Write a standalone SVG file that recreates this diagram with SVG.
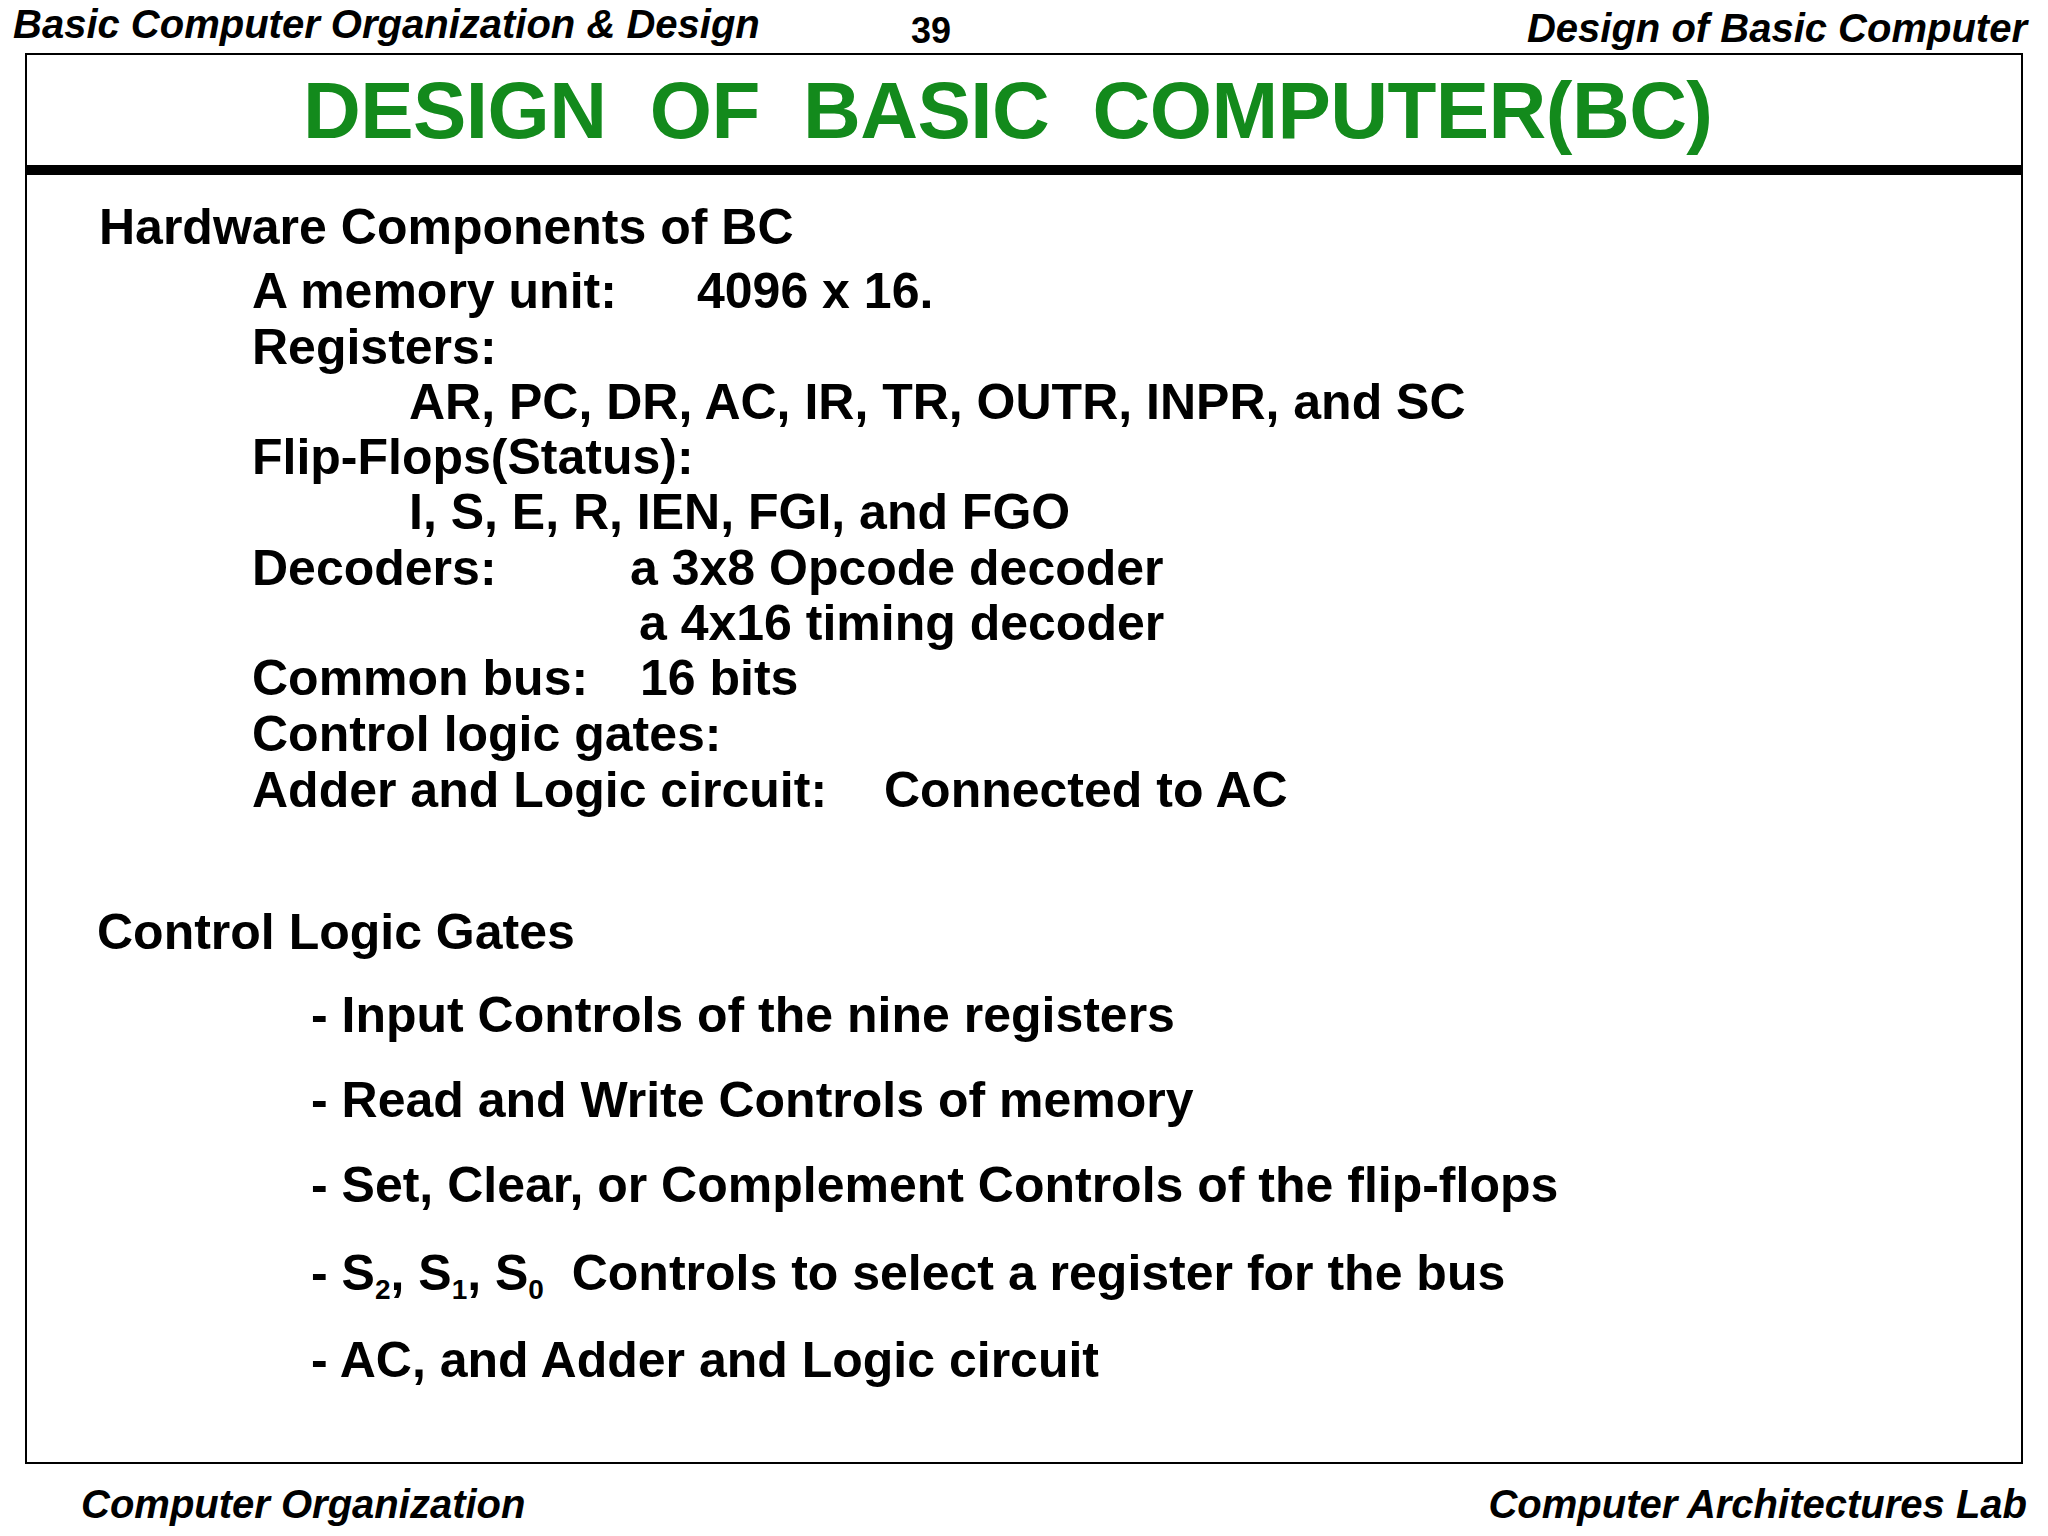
<svg xmlns="http://www.w3.org/2000/svg" width="2048" height="1536" viewBox="0 0 2048 1536">
<style>
.h{font-family:"Liberation Sans",Arial,sans-serif;font-weight:bold;font-style:italic;font-size:40px;fill:#000}
.t{font-family:"Liberation Sans",Arial,sans-serif;font-weight:bold;font-size:50px;fill:#000}
</style>
<rect width="2048" height="1536" fill="#fff"/>
<text class="h" x="13" y="38">Basic Computer Organization &amp; Design</text>
<text class="h" x="931" y="43" text-anchor="middle" style="font-style:normal;font-size:36px">39</text>
<text class="h" x="2027" y="42" text-anchor="end">Design of Basic Computer</text>
<rect x="26" y="54" width="1996" height="1409" fill="none" stroke="#000" stroke-width="2"/>
<text x="303" y="138" font-family="Liberation Sans,Arial,sans-serif" font-weight="bold" font-size="80" fill="#138a1c" textLength="1410" xml:space="preserve">DESIGN  OF  BASIC  COMPUTER(BC)</text>
<rect x="26" y="165" width="1996" height="10" fill="#000"/>
<g id="hw">
<text class="t" x="99" y="244">Hardware Components of BC</text>
<text class="t" x="252" y="308">A memory unit:</text>
<text class="t" x="697" y="308">4096 x 16.</text>
<text class="t" x="252" y="364">Registers:</text>
<text class="t" x="409" y="419">AR, PC, DR, AC, IR, TR, OUTR, INPR, and SC</text>
<text class="t" x="252" y="474">Flip-Flops(Status):</text>
<text class="t" x="409" y="529">I, S, E, R, IEN, FGI, and FGO</text>
<text class="t" x="252" y="585">Decoders:</text>
<text class="t" x="630" y="585">a 3x8 Opcode decoder</text>
<text class="t" x="639" y="640">a 4x16 timing decoder</text>
<text class="t" x="252" y="695">Common bus:</text>
<text class="t" x="640" y="695">16 bits</text>
<text class="t" x="252" y="751">Control logic gates:</text>
<text class="t" x="252" y="807">Adder and Logic circuit:</text>
<text class="t" x="884" y="807">Connected to AC</text>
</g>
<g id="clg">
<text class="t" x="97" y="949">Control Logic Gates</text>
<text class="t" x="311" y="1032">- Input Controls of the nine registers</text>
<text class="t" x="311" y="1117">- Read and Write Controls of memory</text>
<text class="t" x="311" y="1202">- Set, Clear, or Complement Controls of the flip-flops</text>
<text class="t" x="311" y="1290" xml:space="preserve">- S<tspan font-size="28" dy="9">2</tspan><tspan dy="-9">, S</tspan><tspan font-size="28" dy="9">1</tspan><tspan dy="-9">, S</tspan><tspan font-size="28" dy="9">0</tspan><tspan dy="-9">  Controls to select a register for the bus</tspan></text>
<text class="t" x="311" y="1377">- AC, and Adder and Logic circuit</text>
</g>
<text class="h" x="81" y="1518">Computer Organization</text>
<text class="h" x="2027" y="1518" text-anchor="end">Computer Architectures Lab</text>
</svg>
